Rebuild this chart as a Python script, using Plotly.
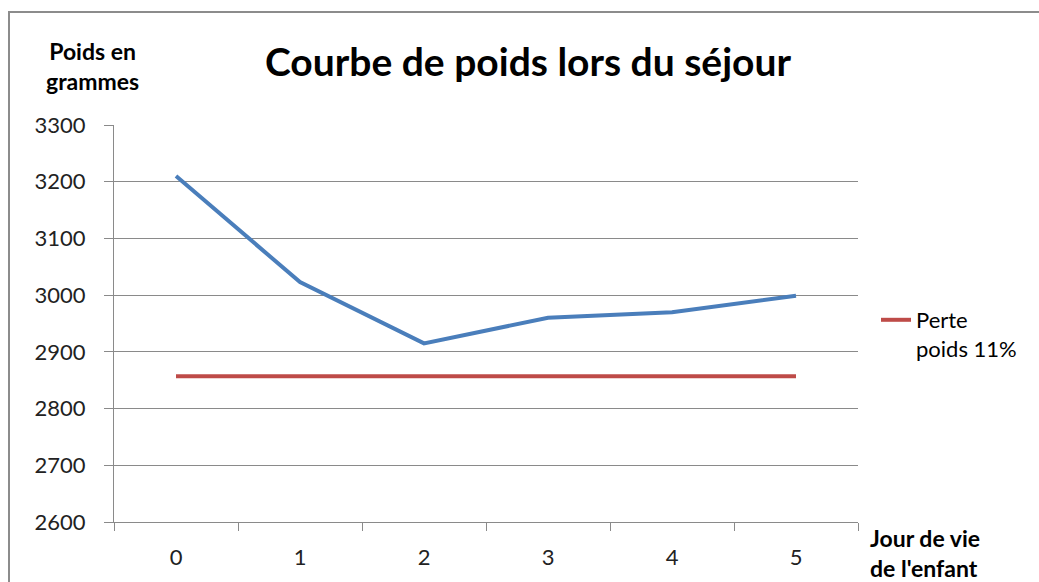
import plotly.graph_objects as go

days = ["0", "1", "2", "3", "4", "5"]
poids = [3210, 3023, 2915, 2960, 2970, 2999]
perte_11 = [2857, 2857, 2857, 2857, 2857, 2857]
y_ticks = [2600, 2700, 2800, 2900, 3000, 3100, 3200, 3300]

FONT = "Lato"
GRID = "#8a8a8a"

fig = go.Figure()
fig.add_trace(go.Scatter(
    x=days, y=perte_11, mode="lines", name="Perte<br>poids 11%",
    line=dict(color="#BE4B48", width=4), showlegend=True,
))
fig.add_trace(go.Scatter(
    x=days, y=poids, mode="lines", name="Poids",
    line=dict(color="#4A7EBB", width=4), showlegend=False,
))

L, R, T, B = 114, 181, 125, 60
W, H = 1039, 582
pw, ph = W - L - R, H - T - B

def px(xp):
    return (xp - L) / pw

def py(yp):
    return (H - B - yp) / ph

fig.update_layout(
    width=W, height=H,
    margin=dict(l=L, r=R, t=T, b=B),
    paper_bgcolor="white", plot_bgcolor="white",
    font=dict(family=FONT, color="#222222"),
    title=dict(
        text="<b>Courbe de poids lors du séjour</b>",
        font=dict(family=FONT, size=39, color="#000000"),
        x=528 / W, xanchor="center", xref="container",
        y=1 - 62 / H, yanchor="middle", yref="container",
    ),
    legend=dict(
        x=px(876), y=py(299), xanchor="left", yanchor="top",
        font=dict(family=FONT, size=22, color="#000000"),
        bgcolor="rgba(0,0,0,0)", valign="top",
    ),
    xaxis=dict(
        type="category", categoryorder="array", categoryarray=days,
        range=[-0.5, 5.5], tickson="boundaries",
        ticks="outside", ticklen=8, tickcolor=GRID, tickwidth=1,
        showgrid=False, showline=True, linecolor=GRID, linewidth=1,
        tickfont=dict(family=FONT, size=22, color="#222222"),
        ticklabelstandoff=16,
        zeroline=False,
    ),
    yaxis=dict(
        range=[2600, 3300], tickmode="array", tickvals=y_ticks,
        ticks="outside", ticklen=9, tickcolor=GRID, tickwidth=1,
        showgrid=True, gridcolor=GRID, gridwidth=1,
        showline=True, linecolor=GRID, linewidth=1,
        tickfont=dict(family=FONT, size=22, color="#222222"),
        ticklabelstandoff=14,
        zeroline=False,
    ),
    annotations=[
        dict(text="<b>Poids en<br>grammes</b>", xref="paper", yref="paper",
             x=px(92), y=py(66), xanchor="center", yanchor="middle",
             showarrow=False, font=dict(family=FONT, size=23, color="#000000")),
        dict(text="<b>Jour de vie<br>de l'enfant</b>", xref="paper", yref="paper",
             x=px(868), y=py(553), xanchor="left", yanchor="middle", align="left",
             showarrow=False, font=dict(family=FONT, size=23, color="#000000")),
    ],
    shapes=[
        dict(type="rect", xref="paper", yref="paper",
             x0=px(9), x1=px(1060), y0=py(600), y1=py(12),
             line=dict(color="#8c8c8c", width=2), fillcolor="rgba(0,0,0,0)",
             layer="below"),
    ],
)

fig.write_html("out.html", config={"displayModeBar": False},
               post_script="document.body.style.margin='0px';")
